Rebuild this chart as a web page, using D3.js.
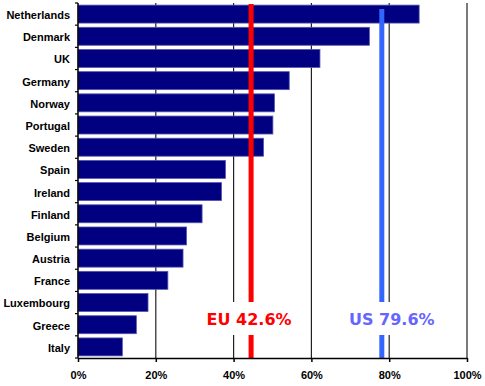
<!DOCTYPE html>
<html lang="en">
<head>
<meta charset="UTF-8">
<title>Broadband</title>
<script src="https://cdn.jsdelivr.net/npm/d3@7/dist/d3.min.js"></script>
<style>
    body { margin: 0; background: #fff; }
    .axis text { font-family: "Liberation Sans", Arial, sans-serif; font-size: 11px; font-weight: bold; fill: #000; }
    .ref text { font-family: "DejaVu Sans", sans-serif; font-size: 16px; font-weight: bold; }
</style>
</head>
<body>
<script>
    let countries = ['Netherlands', 'Denmark', 'UK', 'Germany', 'Norway', 'Portugal', 'Sweden', 'Spain',
        'Ireland', 'Finland', 'Belgium', 'Austria', 'France', 'Luxembourg', 'Greece', 'Italy'];
    let values = [87.7, 74.9, 62.2, 54.3, 50.5, 50.1, 47.7, 37.9, 36.9, 31.9, 27.9, 27.0, 23.1, 18.0, 15.0, 11.4];
    let tickValues = [0, 20, 40, 60, 80, 100];
    let refNames = ['EU 42.6%', 'US 79.6%'];
    let refPositions = [44.5, 78.1];

    let width = 485, height = 386;
    let pLeft = 78, pRight = 467, pTop = 3, pBottom = 358;

    let svg = d3.select('body').append('svg')
        .attr('width', width)
        .attr('height', height);

    let x = d3.scaleLinear().domain([0, 100]).range([pLeft, pRight]);
    let y = d3.scaleBand().domain(countries).range([pTop, pBottom])
        .paddingInner(0.19).paddingOuter(0.095);

    // gridlines
    svg.append('g').selectAll('line')
        .data(tickValues.slice(1))
        .enter().append('line')
        .attr('x1', d => x(d)).attr('x2', d => x(d))
        .attr('y1', pTop).attr('y2', pBottom)
        .attr('stroke', '#222')
        .attr('stroke-width', 1.2);

    // bars
    svg.append('g').selectAll('rect')
        .data(values)
        .enter().append('rect')
        .attr('x', x(0))
        .attr('y', (d, i) => y(countries[i]))
        .attr('width', d => x(d) - x(0))
        .attr('height', y.bandwidth())
        .attr('fill', '#000080')
        .attr('stroke', '#5555b0')
        .attr('stroke-width', 0.8);

    // reference lines
    let refColors = ['#ff0000', '#3366ff'];
    let textColors = ['#ff0000', '#6666ff'];
    let lineTops = [pTop + 1, 9];
    let textShift = [-2, 10];
    let ref = svg.append('g').attr('class', 'ref');
    ref.selectAll('line')
        .data(refPositions)
        .enter().append('line')
        .attr('x1', d => x(d)).attr('x2', d => x(d))
        .attr('y1', (d, i) => lineTops[i]).attr('y2', pBottom)
        .attr('stroke', (d, i) => refColors[i])
        .attr('stroke-width', 5);

    ref.selectAll('rect')
        .data(refPositions)
        .enter().append('rect')
        .attr('x', (d, i) => x(d) + textShift[i] - 50)
        .attr('y', 302)
        .attr('width', 100)
        .attr('height', 33)
        .attr('fill', '#fff');

    ref.selectAll('text')
        .data(refPositions)
        .enter().append('text')
        .attr('x', (d, i) => x(d) + textShift[i])
        .attr('y', 325)
        .attr('text-anchor', 'middle')
        .attr('fill', (d, i) => textColors[i])
        .text((d, i) => refNames[i]);

    // axes
    let xAxis = d3.axisBottom(x)
        .tickValues(tickValues)
        .tickFormat(d => d + '%')
        .tickSize(4)
        .tickSizeOuter(0)
        .tickPadding(9);
    svg.append('g')
        .attr('class', 'axis')
        .attr('transform', 'translate(0,' + pBottom + ')')
        .call(xAxis)
        .call(g => g.select('.domain').attr('stroke', '#000').attr('stroke-width', 1.5))
        .call(g => g.selectAll('.tick line').attr('stroke', '#000').attr('stroke-width', 1.5));

    let yAxis = d3.axisLeft(y).tickSize(0).tickPadding(8);
    svg.append('g')
        .attr('class', 'axis')
        .attr('transform', 'translate(' + pLeft + ',0)')
        .call(yAxis)
        .call(g => g.select('.domain').remove())
        .call(g => g.selectAll('text').attr('dy', '0.45em'));

    svg.append('line')
        .attr('x1', pLeft).attr('x2', pLeft)
        .attr('y1', pTop).attr('y2', pBottom)
        .attr('stroke', '#000').attr('stroke-width', 1.5);

    svg.append('g').selectAll('line')
        .data(d3.range(countries.length + 1))
        .enter().append('line')
        .attr('x1', pLeft - 3).attr('x2', pLeft)
        .attr('y1', i => pTop + i * y.step()).attr('y2', i => pTop + i * y.step())
        .attr('stroke', '#000').attr('stroke-width', 1.2);
</script>
</body>
</html>
